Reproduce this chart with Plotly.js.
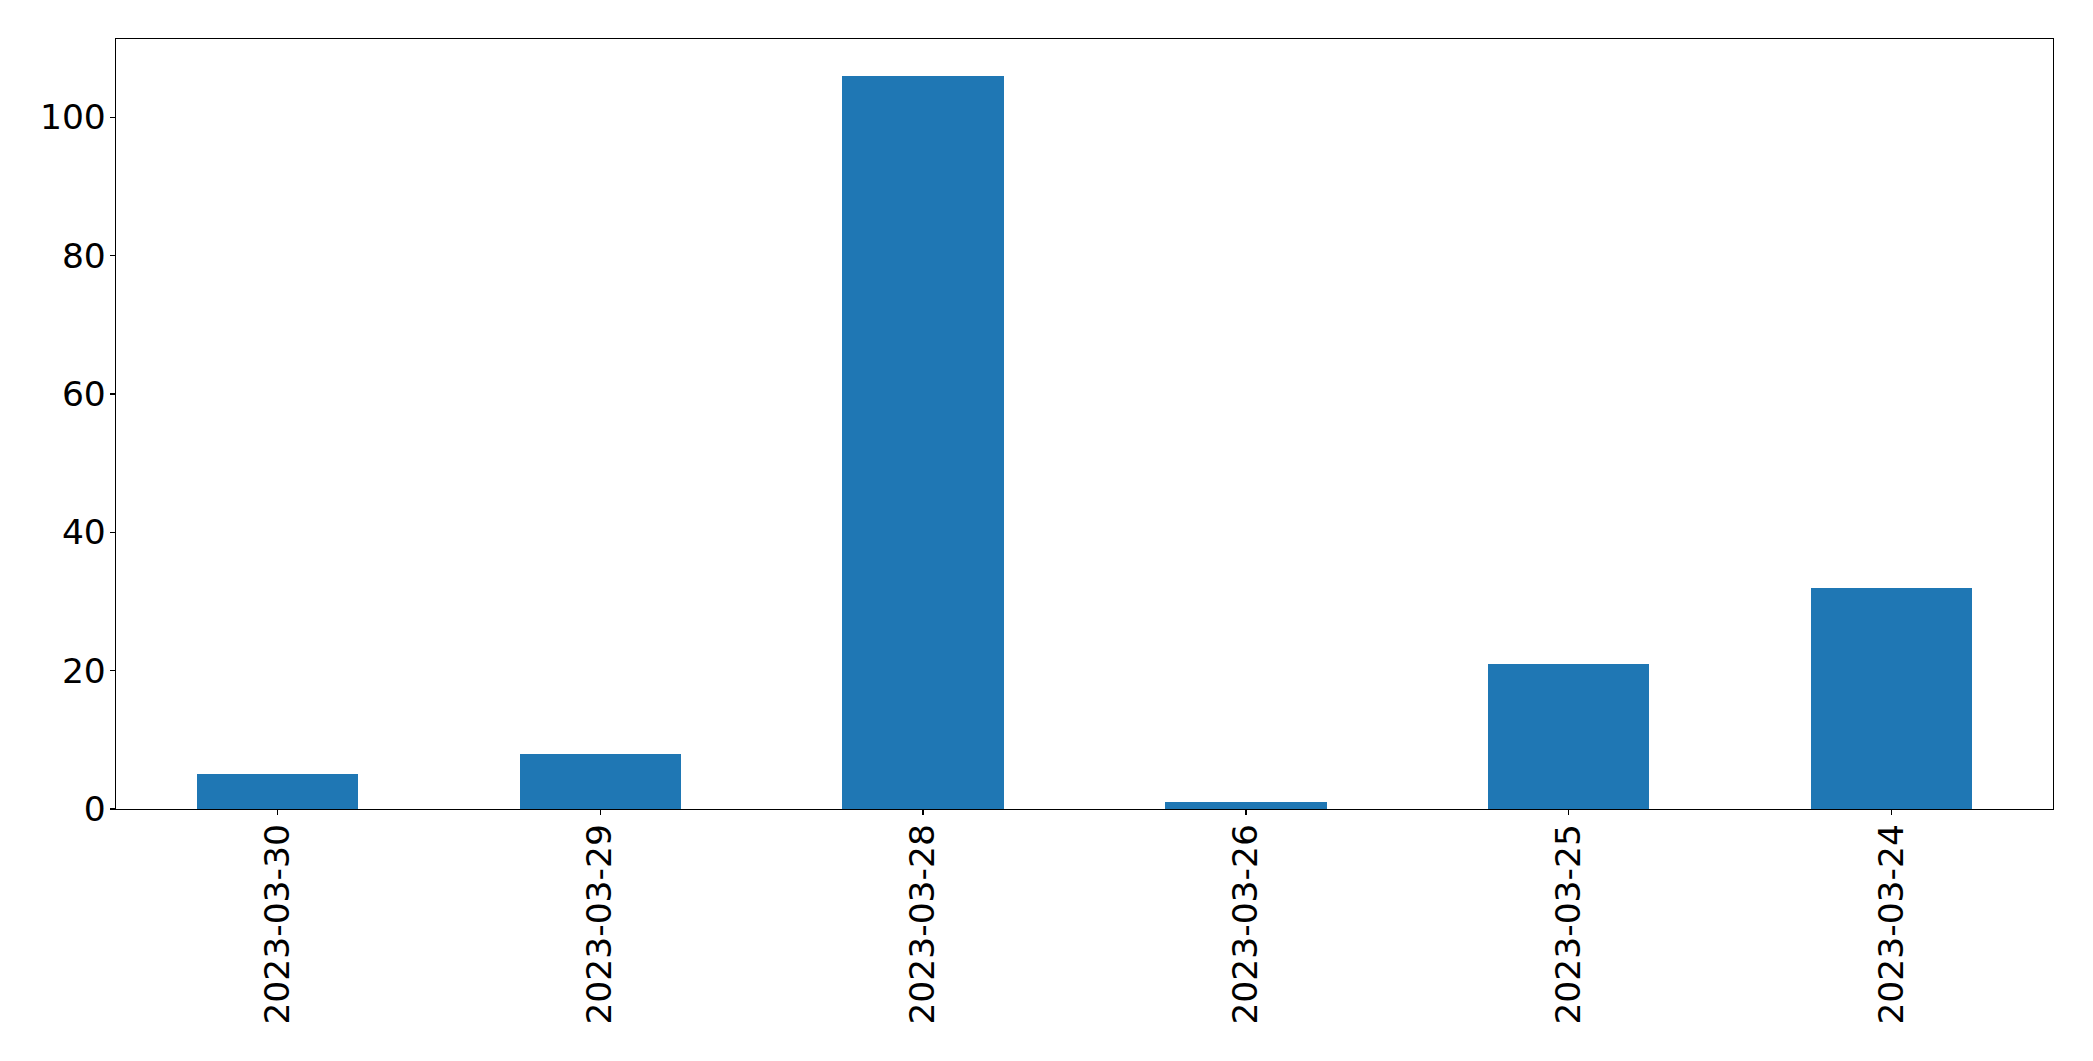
<!DOCTYPE html>
<html>
<head>
<meta charset="utf-8">
<script src="https://cdn.plot.ly/plotly-3.0.1.min.js"></script>
<style>html,body{margin:0;padding:0;background:#fff;}#chart{width:2093px;height:1061px;}</style>
</head>
<body>
<div id="chart"></div>
<script>
const dates = ["2023-03-30", "2023-03-29", "2023-03-28", "2023-03-26", "2023-03-25", "2023-03-24"];
const counts = [5, 8, 106, 1, 21, 32];
const yTicks = [0, 20, 40, 60, 80, 100];

const font = {family: "DejaVu Sans, sans-serif", size: 34.5, color: "#000"};

Plotly.newPlot("chart", [{
  type: "bar",
  x: dates,
  y: counts,
  width: 0.5,
  marker: {color: "#1f77b4", line: {width: 0}},
  hoverinfo: "x+y"
}], {
  width: 2093,
  height: 1061,
  autosize: false,
  margin: {l: 116, r: 40, t: 39, b: 252, pad: 0},
  paper_bgcolor: "#fff",
  plot_bgcolor: "#fff",
  showlegend: false,
  bargap: 0,
  font: font,
  xaxis: {
    type: "category",
    range: [-0.5, 5.5],
    showline: true, mirror: true, linecolor: "#000", linewidth: 1.3,
    ticks: "outside", ticklen: 5, tickwidth: 1.3, tickcolor: "#000",
    tickangle: -90,
    ticklabelstandoff: -5,
    tickfont: font,
    showgrid: false, zeroline: false
  },
  yaxis: {
    range: [0, 111.3],
    tickvals: yTicks,
    ticktext: yTicks.map(String),
    showline: true, mirror: true, linecolor: "#000", linewidth: 1.3,
    ticks: "outside", ticklen: 5, tickwidth: 1.3, tickcolor: "#000",
    ticklabelstandoff: -3,
    tickfont: font,
    showgrid: false, zeroline: false
  }
}, {displayModeBar: false, staticPlot: true});
</script>
</body>
</html>
